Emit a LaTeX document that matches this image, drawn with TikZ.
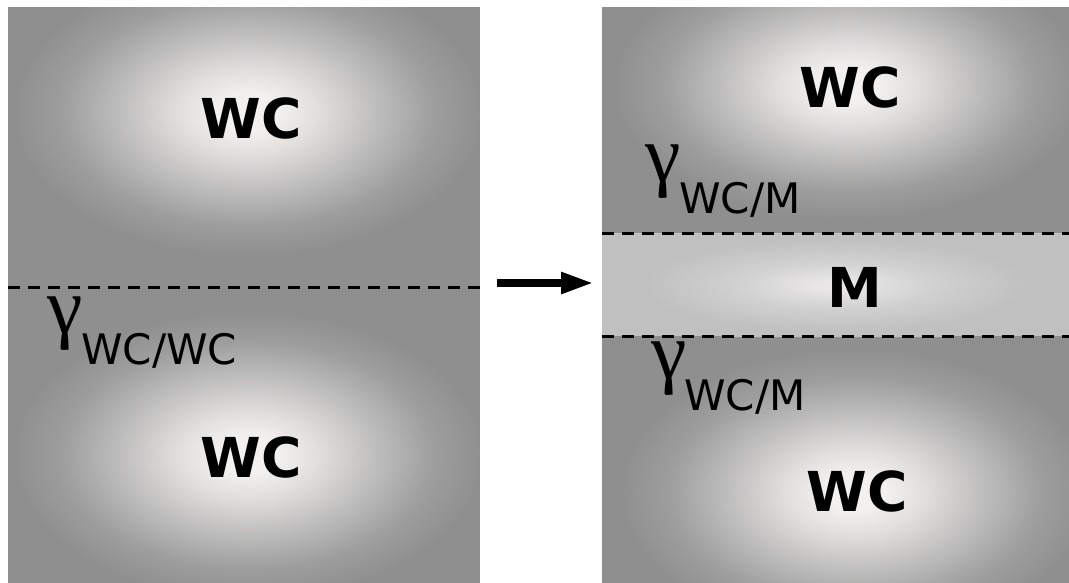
\documentclass[tikz,border=0pt]{standalone}
\usepackage{fontspec}
\setmainfont{DejaVu Sans}
\newfontfamily\gammafont{Liberation Serif}
\usetikzlibrary{arrows.meta}

\definecolor{wcgray}{HTML}{8F8F8F}
\definecolor{wccore}{HTML}{F3F1F0}
\definecolor{mgray}{HTML}{C0C0C0}
\definecolor{mcore}{HTML}{E8E6E6}

% the path's box is mapped onto the inner 50bp square of the shading
\pgfdeclareradialshading{wcglow}{\pgfpoint{0bp}{0bp}}{color(0bp)=(wccore); color(3bp)=(wccore); color(7bp)=(wcgray!18!wccore); color(13bp)=(wcgray!52!wccore); color(19bp)=(wcgray!85!wccore); color(24bp)=(wcgray); color(50bp)=(wcgray)}
\pgfdeclareradialshading{mglow}{\pgfpoint{0bp}{0bp}}{color(0bp)=(mcore); color(2bp)=(mcore); color(10bp)=(mgray!55!mcore); color(20bp)=(mgray); color(50bp)=(mgray)}

\begin{document}
\begin{tikzpicture}[x=1pt,y=-1pt,
  wc/.style={font=\fontsize{55}{55}\selectfont\bfseries},
  gam/.style={font=\fontsize{80}{80}\gammafont, anchor=base west, inner sep=0pt},
  gamsub/.style={font=\fontsize{42}{42}\selectfont, anchor=base west, inner sep=0pt},
  border/.style={line width=3pt, dash pattern=on 12pt off 8pt}]
\useasboundingbox (0,0) rectangle (1069,583);

% left block: two WC grains
\fill[wcgray] (8,7) rectangle (480,583);
\begin{scope}
  \clip (8.5,8) rectangle (479.5,287);
  \shade[shading=wcglow] (248,112) ellipse [x radius=245, y radius=150];
\end{scope}
\begin{scope}
  \clip (8.5,287) rectangle (479.5,583);
  \shade[shading=wcglow] (248,455) ellipse [x radius=245, y radius=150];
\end{scope}
\draw[border] (8,287) -- (480,287);

% right block: WC / M / WC
\fill[wcgray] (602,7) rectangle (1069,583);
\begin{scope}
  \clip (602.5,8) rectangle (1069,233);
  \shade[shading=wcglow] (848,85) ellipse [x radius=245, y radius=140];
\end{scope}
\fill[mgray] (602,233) rectangle (1069,336);
\begin{scope}
  \clip (602.5,233) rectangle (1069,336);
  \shade[shading=mglow] (835,285) ellipse [x radius=240, y radius=58];
\end{scope}
\begin{scope}
  \clip (602.5,336) rectangle (1069,583);
  \shade[shading=wcglow] (855,492) ellipse [x radius=245, y radius=150];
\end{scope}
\draw[border] (602,233) -- (1069,233);
\draw[border] (602,336) -- (1069,336);

\node[wc] (wc1) at (251,118) {WC};
\node[wc] (wc2) at (251,457) {WC};
\node[wc] (wc3) at (850,87) {WC};
\node[wc] (m)   at (855,287) {M};
\node[wc] (wc4) at (857,491) {WC};

\node[gam] (g1) at (47,333) {γ};
\node[gamsub] (s1) at (81,364) {WC/WC};
\node[gam] (g2) at (645,182) {γ};
\node[gamsub] (s2) at (679,214) {WC/M};
\node[gam] (g3) at (651,378) {γ};
\node[gamsub] (s3) at (684,410) {WC/M};

\coordinate (from) at (497,283);
\coordinate (to) at (594,283);
\draw[line width=8pt, -{Triangle[length=33pt, width=20pt]}] (from) -- (to);
\end{tikzpicture}
\end{document}
